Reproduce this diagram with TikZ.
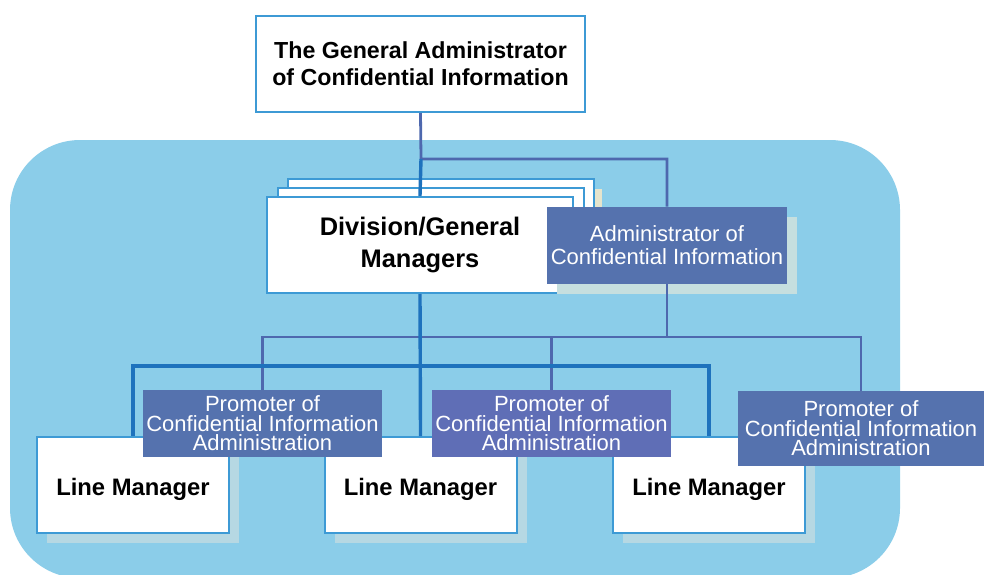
\documentclass[tikz,border=0pt]{standalone}
\usepackage{fontspec}
\setmainfont{Liberation Sans}
\usetikzlibrary{shadows}

\definecolor{skyback}{HTML}{8BCDE9}
\definecolor{boxline}{HTML}{3D9AD5}
\definecolor{mainblue}{HTML}{1E72BD}
\definecolor{adminblue}{HTML}{4E68AE}
\definecolor{adminfill}{HTML}{5572AE}
\definecolor{promofill}{HTML}{5F6EB6}
\definecolor{lmshadow}{HTML}{B6D8E3}
\definecolor{pale}{HTML}{C6DFDF}
\definecolor{beige}{HTML}{E6E4CC}

\tikzset{
  whitebox/.style={draw=boxline, line width=1pt, fill=white, inner sep=0pt, align=center},
  sheet/.style={whitebox, minimum width=153pt, minimum height=48pt},
  lmbox/.style={whitebox, minimum width=96pt, minimum height=48pt,
    font=\fontsize{11.9}{14}\selectfont\bfseries, text height=11pt, text depth=1pt,
    drop shadow={shadow xshift=5pt, shadow yshift=-5pt, fill=lmshadow, opacity=1}},
  bluebox/.style={fill=adminfill, text=white, inner sep=0pt, align=center},
  promobox/.style={bluebox, minimum width=119.5pt, minimum height=33.5pt,
    font=\fontsize{11}{9.75}\selectfont},
  mainline/.style={draw=mainblue, line width=1.7pt},
  adminline/.style={draw=adminblue, line width=1.4pt},
}

\begin{document}
\begin{tikzpicture}[x=0.5pt, y=-0.5pt]
  \useasboundingbox (0,0) rectangle (984,574);
  \fill[skyback, rounded corners=35pt] (10,140) rectangle (900,578);

  \node[whitebox, minimum width=164.5pt, minimum height=48pt,
    font=\fontsize{11.6}{13.5}\selectfont\bfseries] (gadmin) at (420.5,64)
    {The General Administrator\\of Confidential Information};

  \node[sheet, drop shadow={shadow xshift=4pt, shadow yshift=-5pt, fill=beige, opacity=1}] (sheeta) at (441,227) {};
  \node[sheet] (sheetb) at (430.5,236) {};
  \node[sheet, font=\fontsize{12.7}{16}\selectfont\bfseries] (division) at (420,245)
    {Division/General\\Managers};

  \node[bluebox, minimum width=120pt, minimum height=38.5pt,
    font=\fontsize{11}{11.5}\selectfont,
    drop shadow={shadow xshift=5pt, shadow yshift=-5pt, fill=pale, opacity=1}] (admin) at (667,245.5)
    {Administrator of\\Confidential Information};

  \node[lmbox] (lineA) at (133,485) {Line Manager};
  \node[lmbox] (lineB) at (420.5,485) {Line Manager};
  \node[lmbox] (lineC) at (709,485) {Line Manager};

  \node[promobox] (promoA) at (262.5,423.5) {Promoter of\\Confidential Information\\Administration};
  \node[promobox, fill=promofill] (promoB) at (551.5,423.5) {Promoter of\\Confidential Information\\Administration};
  \node[promobox, minimum width=123pt, minimum height=37.5pt] (promoC) at (861,428.5) {Promoter of\\Confidential Information\\Administration};

  \coordinate (split) at (421,159);
  \coordinate (mainbar) at (421,366);
  \coordinate (adminbar) at (667,337);

  \draw[adminline] (gadmin.south) -- (split) -| (admin.north);
  \draw[adminline] (admin.south) -- (adminbar);
  \draw[adminline] (promoA.north) |- (adminbar) -| (promoC.north);
  \draw[adminline] (promoB.north) -- (promoB.north |- adminbar);
  \draw[mainline] (split) -- (division.north);
  \draw[mainline] (division.south) -- (lineB.north);
  \draw[mainline] (lineA.north) |- (mainbar) -| (lineC.north);
\end{tikzpicture}
\end{document}
